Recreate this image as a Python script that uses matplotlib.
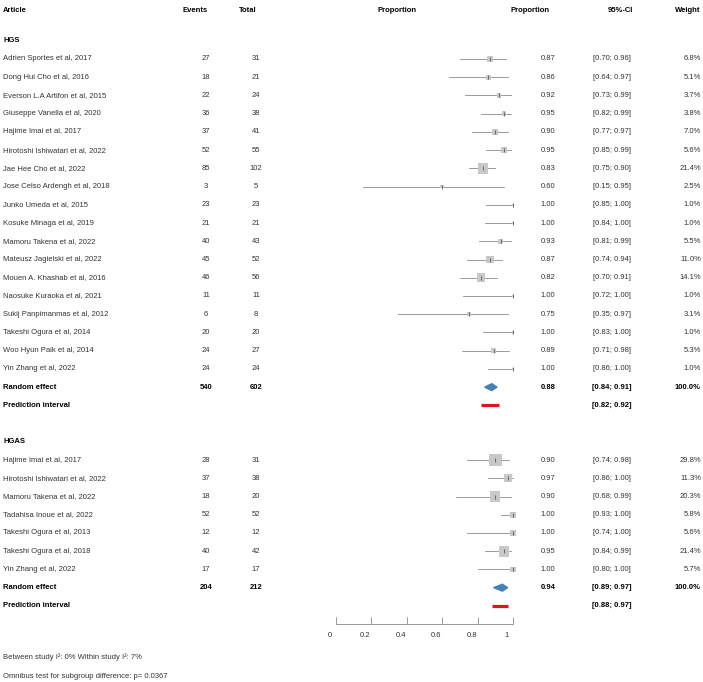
import numpy as np
import matplotlib
matplotlib.use('Agg')
import matplotlib.pyplot as plt
import matplotlib.transforms as mtransforms

plt.rcParams['font.family'] = ['Liberation Sans', 'DejaVu Sans']

# HGS 组数据
hgs_articles = [
    'Adrien Sportes et al, 2017', 'Dong Hui Cho et al, 2016', 'Everson L.A Artifon et al, 2015',
    'Giuseppe Vanella et al, 2020', 'Hajime Imai et al, 2017', 'Hirotoshi Ishiwatari et al, 2022',
    'Jae Hee Cho et al, 2022', 'Jose Celso Ardengh et al, 2018', 'Junko Umeda et al, 2015',
    'Kosuke Minaga et al, 2019', 'Mamoru Takena et al, 2022', 'Mateusz Jagielski et al, 2022',
    'Mouen A. Khashab et al, 2016', 'Naosuke Kuraoka et al, 2021', 'Sukij Panpimanmas et al, 2012',
    'Takeshi Ogura et al, 2014', 'Woo Hyun Paik et al, 2014', 'Yin Zhang et al, 2022',
]
hgs_events = [27, 18, 22, 36, 37, 52, 85, 3, 23, 21, 40, 45, 46, 11, 6, 20, 24, 24]
hgs_total = [31, 21, 24, 38, 41, 55, 102, 5, 23, 21, 43, 52, 56, 11, 8, 20, 27, 24]
hgs_prop = [0.87, 0.86, 0.92, 0.95, 0.90, 0.95, 0.83, 0.60, 1.00, 1.00, 0.93, 0.87, 0.82, 1.00, 0.75, 1.00, 0.89, 1.00]
hgs_lo = [0.70, 0.64, 0.73, 0.82, 0.77, 0.85, 0.75, 0.15, 0.85, 0.84, 0.81, 0.74, 0.70, 0.72, 0.35, 0.83, 0.71, 0.86]
hgs_hi = [0.96, 0.97, 0.99, 0.99, 0.97, 0.99, 0.90, 0.95, 1.00, 1.00, 0.99, 0.94, 0.91, 1.00, 0.97, 1.00, 0.98, 1.00]
hgs_weight = [6.8, 5.1, 3.7, 3.8, 7.0, 5.6, 21.4, 2.5, 1.0, 1.0, 5.5, 11.0, 14.1, 1.0, 3.1, 1.0, 5.3, 1.0]
hgs_pooled = (540, 602, 0.88, 0.84, 0.91)
hgs_pi = (0.82, 0.92)

# HGAS 组数据
hgas_articles = [
    'Hajime Imai et al, 2017', 'Hirotoshi Ishiwatari et al, 2022', 'Mamoru Takena et al, 2022',
    'Tadahisa Inoue et al, 2022', 'Takeshi Ogura et al, 2013', 'Takeshi Ogura et al, 2018',
    'Yin Zhang et al, 2022',
]
hgas_events = [28, 37, 18, 52, 12, 40, 17]
hgas_total = [31, 38, 20, 52, 12, 42, 17]
hgas_prop = [0.90, 0.97, 0.90, 1.00, 1.00, 0.95, 1.00]
hgas_lo = [0.74, 0.86, 0.68, 0.93, 0.74, 0.84, 0.80]
hgas_hi = [0.98, 1.00, 0.99, 1.00, 1.00, 0.99, 1.00]
hgas_weight = [29.8, 11.3, 20.3, 5.8, 5.6, 21.4, 5.7]
hgas_pooled = (204, 212, 0.94, 0.89, 0.97)
hgas_pi = (0.88, 0.97)

tick_vals = [0, 0.2, 0.4, 0.6, 0.8, 1]
tick_labels = ['0', '0.2', '0.4', '0.6', '0.8', '1']

W, H = 703, 682
ROW0, STEP = 59, 18.23  # 第一行的像素位置和行距

fig = plt.figure(figsize=(W / 100, H / 100), dpi=100)
ax = fig.add_axes([336 / W, 0, 177 / W, 1])
ax.set_xlim(0, 1)
ax.set_ylim((H - ROW0) / STEP, -ROW0 / STEP)
for s in ['top', 'left', 'right']:
    ax.spines[s].set_visible(False)
ax.spines['bottom'].set_position(('data', 31))
ax.spines['bottom'].set_color('#9a9a9a')
ax.spines['bottom'].set_linewidth(0.7)
ax.set_yticks([])
ax.set_xticks(tick_vals)
ax.set_xticklabels(tick_labels)
ax.tick_params(axis='x', direction='in', length=5, width=0.7, color='#9a9a9a',
               labelsize=5.5, labelcolor='#333333', pad=6)
offset = mtransforms.ScaledTranslation(-6 / 100, 0, fig.dpi_scale_trans)
for lab in ax.get_xticklabels():
    lab.set_transform(lab.get_transform() + offset)

tr = mtransforms.blended_transform_factory(fig.transFigure, ax.transData)
FS = 5.5
TXT = '#333333'


def put(x_px, row, s, ha='center', bold=False, color=TXT):
    ax.text(x_px / W, row, s, transform=tr, ha=ha, va='center', fontsize=FS,
            fontweight='bold' if bold else 'normal', color=color, clip_on=False)


# 表头
header_row = (10 - ROW0) / STEP
put(3, header_row, 'Article', ha='left', bold=True, color='black')
put(195, header_row, 'Events', bold=True, color='black')
put(248, header_row, 'Total', bold=True, color='black')
put(397, header_row, 'Proportion', bold=True, color='black')
put(530, header_row, 'Proportion', bold=True, color='black')
put(620, header_row, '95%-CI', bold=True, color='black')
put(700, header_row, 'Weight', ha='right', bold=True, color='black')


def draw_group(name, start, articles, events, total, prop, lo, hi, weight, pooled, pi):
    put(3, start - 1, name, ha='left', bold=True, color='black')
    rows = np.arange(len(articles)) + start
    for i, r in enumerate(rows):
        put(3, r, articles[i], ha='left')
        put(206, r, str(events[i]))
        put(256, r, str(total[i]))
        put(548, r, f'{prop[i]:.2f}')
        put(612, r, f'[{lo[i]:.2f}; {hi[i]:.2f}]')
        put(701, r, f'{weight[i]:.1f}%', ha='right')
        ax.plot([lo[i], hi[i]], [r, r], color='#8c8c8c', lw=0.6, clip_on=False, zorder=2)
    side_pt = 2.3 * np.sqrt(np.array(weight)) * 0.72
    ax.scatter(prop, rows, s=side_pt ** 2, marker='s', color='#c8c8c8', linewidths=0,
               zorder=3, clip_on=False)
    ax.scatter(prop, rows, s=9, marker='|', color='#555555', linewidths=0.6,
               zorder=4, clip_on=False)

    # 随机效应
    r = rows[-1] + 1
    ev, tot, est, plo, phi = pooled
    put(3, r, 'Random effect', ha='left', bold=True, color='black')
    put(206, r, str(ev), bold=True, color='black')
    put(256, r, str(tot), bold=True, color='black')
    put(548, r, f'{est:.2f}', bold=True, color='black')
    put(612, r, f'[{plo:.2f}; {phi:.2f}]', bold=True, color='black')
    put(701, r, '100.0%', ha='right', bold=True, color='black')
    h = 0.19
    ax.fill([plo, est, phi, est], [r, r - h, r, r + h], color='#4682b4', zorder=3, clip_on=False)

    # 预测区间
    r += 1
    put(3, r, 'Prediction interval', ha='left', bold=True, color='black')
    put(612, r, f'[{pi[0]:.2f}; {pi[1]:.2f}]', bold=True, color='black')
    ax.plot([pi[0], pi[1]], [r, r], color='#d7191c', lw=2.3, solid_capstyle='butt',
            zorder=3, clip_on=False)


draw_group('HGS', 0, hgs_articles, hgs_events, hgs_total, hgs_prop, hgs_lo, hgs_hi,
           hgs_weight, hgs_pooled, hgs_pi)
draw_group('HGAS', 22, hgas_articles, hgas_events, hgas_total, hgas_prop, hgas_lo, hgas_hi,
           hgas_weight, hgas_pooled, hgas_pi)

put(3, (657 - ROW0) / STEP, 'Between study I²: 0% Within study I²: 7%', ha='left')
put(3, (677 - ROW0) / STEP, 'Omnibus test for subgroup difference: p= 0.0367', ha='left')

fig.savefig('out.png', dpi=100, facecolor='white')
